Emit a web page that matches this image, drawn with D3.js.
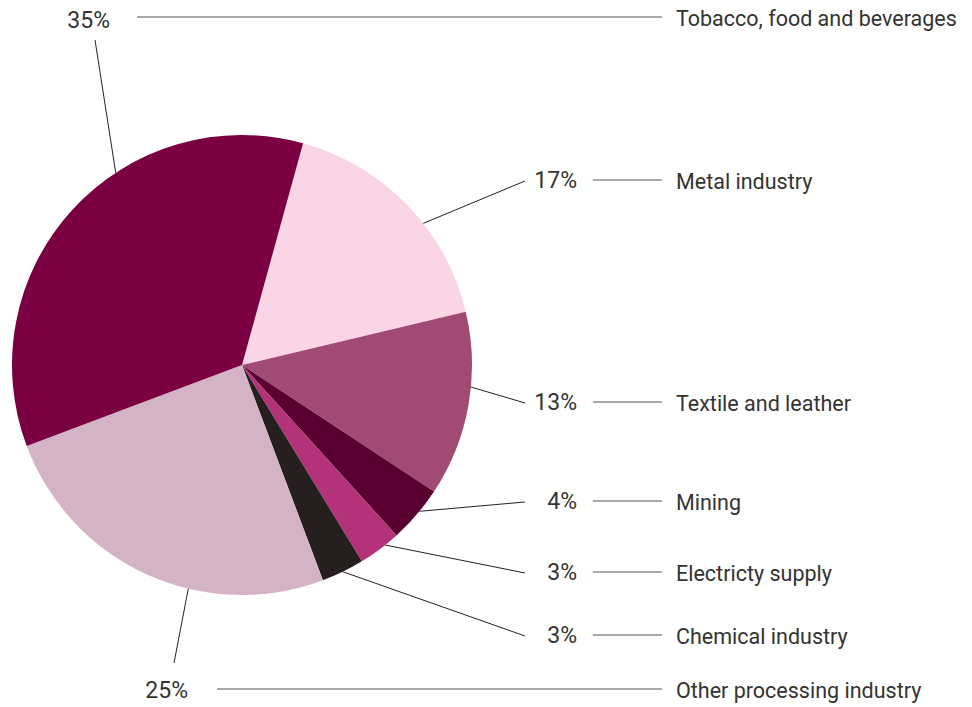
<!DOCTYPE html>
<html>
<head>
<meta charset="utf-8">
<script src="https://cdn.jsdelivr.net/npm/d3@7"></script>
<style>
  body { margin: 0; background: #fff; }
  svg text { font-family: Roboto, "Open Sans", sans-serif; fill: #333; }
</style>
</head>
<body>
<div id="chart"></div>
<script>

// sectors, clockwise from the top-right edge of the big slice
const categories = [
  "Metal industry",
  "Textile and leather",
  "Mining",
  "Electricty supply",
  "Chemical industry",
  "Other processing industry",
  "Tobacco, food and beverages"
]

const shares = [17, 13, 4, 3, 3, 25, 35]

const colours = ["#f9d5e6", "#a14a73", "#5a0031", "#b3327a", "#251f20", "#d3b3c5", "#7a0042"]

// where each label sits (legend row y) and where its leader leaves the pie (degrees)
const labelRowY = [180, 402, 501, 572, 635, 689, 17]
const leaderAngle = [52, 95.5, 129.5, 141.5, 154, 193.5, -33.3]

const width = 972
const height = 707
const cx = 242
const cy = 365
const radius = 230
const startDeg = 15.4

const svg = d3.select("#chart").append("svg")
    .attr("width", width)
    .attr("height", height)

const rad = d => d * Math.PI / 180

const pie = d3.pie()
    .sort(null)
    .value(d => d.value)
    .startAngle(rad(startDeg))
    .endAngle(rad(startDeg) + 2 * Math.PI)

const arc = d3.arc().innerRadius(0).outerRadius(radius)

const rows = categories.map((c, i) => ({
  name: c,
  value: shares[i],
  colour: colours[i],
  y: labelRowY[i],
  angle: leaderAngle[i]
}))

const g = svg.append("g").attr("transform", `translate(${cx},${cy})`)

g.selectAll("path")
  .data(pie(rows))
  .join("path")
    .attr("d", arc)
    .attr("fill", d => d.data.colour)

// percent label, leader line and legend line for each slice
const onArc = a => [cx + radius * Math.sin(rad(a)), cy - radius * Math.cos(rad(a))]

rows.forEach(function(d) {

  const p = onArc(d.angle)
  let tx, ty, lineFrom

  if (d.name == "Tobacco, food and beverages") {
    tx = 110; ty = d.y + 11; lineFrom = 137
    svg.append("line")
      .attr("x1", p[0]).attr("y1", p[1])
      .attr("x2", 95).attr("y2", d.y + 23)
      .attr("stroke", "#222").attr("stroke-width", 1)
  } else if (d.name == "Other processing industry") {
    tx = 188; ty = d.y + 9; lineFrom = 217
    svg.append("line")
      .attr("x1", p[0]).attr("y1", p[1])
      .attr("x2", 174).attr("y2", d.y - 26)
      .attr("stroke", "#222").attr("stroke-width", 1)
  } else {
    tx = 577; ty = d.y + 8; lineFrom = 593
    svg.append("line")
      .attr("x1", p[0]).attr("y1", p[1])
      .attr("x2", 525).attr("y2", d.y + 1)
      .attr("stroke", "#222").attr("stroke-width", 1)
  }

  svg.append("text")
    .attr("x", tx)
    .attr("y", ty)
    .attr("text-anchor", "end")
    .attr("font-size", 23)
    .text(d.value + "%")

  svg.append("line")
    .attr("x1", lineFrom).attr("y1", d.y)
    .attr("x2", 662).attr("y2", d.y)
    .attr("stroke", "#555").attr("stroke-width", 1.2)

  svg.append("text")
    .attr("x", 676)
    .attr("y", d.y + 9)
    .attr("font-size", 21.5)
    .text(d.name)
})

</script>
</body>
</html>
